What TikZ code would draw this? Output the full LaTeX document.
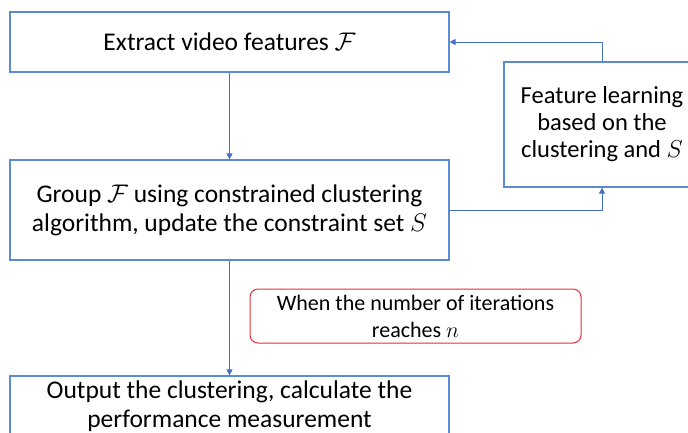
\documentclass[tikz,border=0pt]{standalone}
\usepackage{fix-cm}
\usepackage{fontspec}
\setmainfont{Carlito}
\usepackage{xcolor}
\usetikzlibrary{positioning,arrows.meta}

\definecolor{boxblue}{HTML}{5B8BD0}
\definecolor{linkblue}{HTML}{4472C4}
\definecolor{condred}{HTML}{E0303A}

\begin{document}
\begin{tikzpicture}[
    x=1pt, y=-1pt,
    every node/.style={font=\fontsize{25.5}{29}\selectfont},
    stage/.style={draw=boxblue, line width=1.2pt, align=center, inner sep=0pt},
    link/.style={draw=linkblue, line width=0.9pt, -{Triangle[length=6pt,width=6pt]}}
]

\clip (0,0) rectangle (688,432);

% Steps
\node[stage, minimum width=439pt, minimum height=60pt] (extract) at (229.5,42) {Extract video features $\mathcal{F}$};
\node[stage, minimum width=439pt, minimum height=100pt] (group) at (229.5,210) {Group $\mathcal{F}$ using constrained clustering\\algorithm, update the constraint set $S$};
\node[stage, minimum width=196pt, minimum height=125pt, font=\fontsize{24.5}{27}\selectfont] (learn) at (602,124.5) {Feature learning\\based on the\\clustering and $S$};
\node[stage, minimum width=439pt, minimum height=60pt] (output) at (229.5,406) {Output the clustering, calculate the\\performance measurement};

% Stop condition
\node[draw=condred, rounded corners=8pt, line width=1pt, minimum width=331pt, minimum height=54pt, align=center,
      font=\fontsize{22}{27}\selectfont] (cond) at (415.5,316) {When the number of iterations\\reaches $n$};

% Flow
\draw[link] (extract) -- (group);
\draw[link] (group) -- (output);
\draw[link] (group.east) -| (learn.south);
\draw[link] (learn.north) |- (extract.east);

\end{tikzpicture}
\end{document}
